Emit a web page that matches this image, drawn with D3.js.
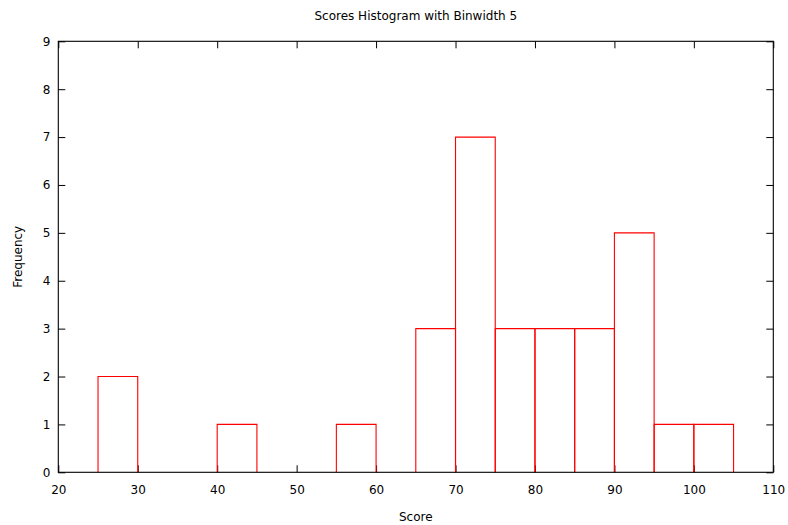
<!DOCTYPE html>
<html><head><meta charset="utf-8">
<script src="https://cdn.jsdelivr.net/npm/d3@7"></script>
<style>body{margin:0;background:#fff}svg text{font-family:"DejaVu Sans",sans-serif;fill:#000}</style>
</head><body><svg id="c" width="788" height="525"></svg>
<script>
const binStarts = [25, 40, 55, 65, 70, 75, 80, 85, 90, 95, 100];
const frequencies = [2, 1, 1, 3, 7, 3, 3, 3, 5, 1, 1];
const binWidth = 5;
const xTicks = [20, 30, 40, 50, 60, 70, 80, 90, 100, 110];
const yTicks = [0, 1, 2, 3, 4, 5, 6, 7, 8, 9];
const titleText = "Scores Histogram with Binwidth 5";
const xLabel = "Score", yLabel = "Frequency";

const svg = d3.select("#c");
const L = 58.3, R = 773.3, T = 41.3, B = 472.3;
const x = d3.scaleLinear().domain([20, 110]).range([L, R]);
const y = d3.scaleLinear().domain([0, 9]).range([B, T]);

// axes
const fs = 12;
const xb = d3.axisBottom(x).tickValues(xTicks).tickSizeInner(-7).tickSizeOuter(0).tickPadding(13);
const xt = d3.axisTop(x).tickValues(xTicks).tickSizeInner(-7).tickSizeOuter(0).tickFormat("");
const yl = d3.axisLeft(y).tickValues(yTicks).tickSizeInner(-7).tickSizeOuter(0).tickPadding(8);
const yr = d3.axisRight(y).tickValues(yTicks).tickSizeInner(-7).tickSizeOuter(0).tickFormat("");
function style(sel){
  sel.select(".domain").remove();
  sel.selectAll(".tick line").attr("stroke", "#000");
  sel.selectAll("text").attr("font-size", fs).attr("font-family", "DejaVu Sans, sans-serif").attr("fill", "#000");
}
svg.append("g").attr("transform", `translate(0,${B})`).call(xb).call(style);
svg.append("g").attr("transform", `translate(0,${T})`).call(xt).call(style);
svg.append("g").attr("transform", `translate(${L},0)`).call(yl).call(style);
svg.append("g").attr("transform", `translate(${R},0)`).call(yr).call(style);

const g = svg.append("g");
g.selectAll("path.bar").data(binStarts).enter().append("path")
  .attr("class", "bar")
  .attr("d", (d, i) => {
    const x0 = x(d), x1 = x(d + binWidth), y0 = y(0), y1 = y(frequencies[i]);
    return `M${x0},${y0}V${y1}H${x1}V${y0}`;
  })
  .style("fill", "none").style("stroke", "rgb(255,0,0)").style("stroke-width", "1.1px");

svg.append("rect").attr("x", L).attr("y", T).attr("width", R - L).attr("height", B - T)
  .attr("fill", "none").attr("stroke", "#000").attr("stroke-width", 1.1);

svg.append("text").attr("x", (L + R) / 2).attr("y", 20).attr("text-anchor", "middle").attr("font-size", 12).text(titleText);
svg.append("text").attr("x", (L + R) / 2).attr("y", 521).attr("text-anchor", "middle").attr("font-size", 12).text(xLabel);
svg.append("text").attr("transform", `translate(22,${(T + B) / 2}) rotate(-90)`).attr("text-anchor", "middle").attr("font-size", 12).text(yLabel);
</script></body></html>
